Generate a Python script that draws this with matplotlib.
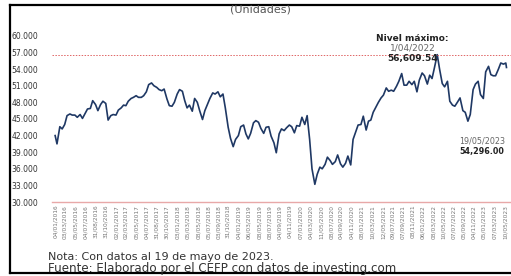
import numpy as np
import matplotlib
matplotlib.use('Agg')
import matplotlib.pyplot as plt
import pandas as pd
from matplotlib.ticker import FuncFormatter

# IPC (unidades), valores quincenales
ipc_2016 = [42000, 40500, 43600, 43200, 44000, 45600, 45900, 45700, 45700, 45300, 45800, 45100,
            46000, 46800, 46900, 48300, 47600, 46500, 47600, 48200, 47800, 44800, 45600, 45800]
ipc_2017 = [45700, 46600, 47000, 47500, 47400, 48200, 48700, 48900, 49200, 48900, 48900, 49200,
            49900, 51200, 51500, 51000, 50700, 50300, 50100, 50400, 48600, 47400, 47300, 48000]
ipc_2018 = [49500, 50300, 50000, 48300, 47000, 47500, 46400, 48700, 48000, 46500, 44900, 46500,
            47700, 48700, 49700, 49500, 49900, 49000, 49500, 47000, 43500, 41500, 40000, 41300]
ipc_2019 = [42000, 43600, 43900, 42300, 41400, 42400, 44300, 44700, 44400, 43300, 42400, 43500,
            43600, 41900, 40700, 38900, 42300, 43200, 42900, 43400, 43900, 43600, 42500, 43800]
ipc_2020 = [43700, 45300, 44000, 45600, 41300, 36000, 33200, 35000, 36300, 36000, 36800, 38100,
            37500, 36800, 37300, 38500, 36900, 36300, 37000, 38300, 36700, 41300, 42700, 43900]
ipc_2021 = [44000, 45500, 43000, 44600, 44800, 46200, 47200, 48000, 48800, 49300, 50600, 50000,
            50200, 50000, 50900, 51800, 53200, 51100, 51100, 51800, 51200, 51800, 49900, 52000]
ipc_2022 = [53300, 52800, 51300, 52900, 52300, 54200, 56609.54, 54000, 51400, 50800, 51800, 48200,
            47500, 47300, 48100, 48800, 46500, 46200, 44600, 45800, 50300, 51300, 51800, 49400]
ipc_2023 = [48700, 53500, 54500, 53000, 52800, 52800, 54000, 55100, 54900, 55100, 54296.0]

valores = ipc_2016 + ipc_2017 + ipc_2018 + ipc_2019 + ipc_2020 + ipc_2021 + ipc_2022 + ipc_2023
fechas = ([pd.Timestamp('2016-01-04')]
          + list(pd.date_range('2016-01-15', '2023-05-15', freq='SMS'))
          + [pd.Timestamp('2023-05-19')])

etiquetas_x = ['04/01/2016', '03/03/2016', '05/05/2016', '04/07/2016', '31/08/2016', '31/10/2016',
               '02/01/2017', '02/03/2017', '05/05/2017', '04/07/2017', '31/08/2017', '30/10/2017',
               '03/01/2018', '05/03/2018', '08/05/2018', '05/07/2018', '03/09/2018', '31/10/2018',
               '04/01/2019', '06/03/2019', '08/05/2019', '08/07/2019', '04/09/2019', '04/11/2019',
               '07/01/2020', '04/03/2020', '11/05/2020', '08/07/2020', '04/09/2020', '04/11/2020',
               '08/01/2021', '10/03/2021', '12/05/2021', '09/07/2021', '07/09/2021', '08/11/2021',
               '06/01/2022', '08/03/2022', '10/05/2022', '07/07/2022', '05/09/2022', '04/11/2022',
               '05/01/2023', '07/03/2023', '10/05/2023']
maximo = 56609.54
fecha_max = '1/04/2022'
ultimo = 54296.0
fecha_ult = '19/05/2023'

plt.rcParams['font.family'] = ['DejaVu Sans']

fig = plt.figure(figsize=(5.11, 2.76), dpi=100)
ax = fig.add_axes([0.102, 0.268, 0.898, 0.602])

ax.plot(fechas, valores, color='#1f3864', lw=1.2)
ax.axhline(maximo, color='#e06666', lw=0.7, ls=(0, (1.5, 1.5)))

ax.set_ylim(30000, 60000)
ax.set_xlim(pd.Timestamp('2015-12-17'), pd.Timestamp('2023-06-15'))
ax.set_yticks(np.arange(30000, 60001, 3000))
ax.yaxis.set_major_formatter(FuncFormatter(lambda v, p: f'{int(v):,}'.replace(',', '.')))
ax.tick_params(axis='y', length=0, labelsize=5.5, labelcolor='#333333', pad=10)

ticks = [pd.to_datetime(t, format='%d/%m/%Y') for t in etiquetas_x]
ax.set_xticks(ticks)
ax.set_xticklabels(etiquetas_x, rotation=90, fontsize=4.2, color='#777777')
ax.tick_params(axis='x', length=0, pad=2)

for s in ['top', 'right', 'left']:
    ax.spines[s].set_visible(False)
ax.spines['bottom'].set_color('#e8a8a8')
ax.spines['bottom'].set_linewidth(1.0)

# anotaciones
x_max = pd.Timestamp('2021-11-05')
ax.text(x_max, 59600, 'Nivel máximo:', ha='center', va='center',
        fontsize=6.5, fontweight='bold', color='#222222')
ax.text(x_max, 57800, fecha_max, ha='center', va='center',
        fontsize=6.5, color='#666666')
ax.text(x_max, 56000, f'{maximo:,.2f}', ha='center', va='center',
        fontsize=6.5, fontweight='bold', color='#222222')
x_ult = pd.Timestamp('2022-08-10')
ax.text(x_ult, 41000, fecha_ult, ha='left', va='center',
        fontsize=5.8, color='#666666', clip_on=False)
ax.text(x_ult, 39200, f'{ultimo:,.2f}', ha='left', va='center',
        fontsize=5.8, fontweight='bold', color='#222222', clip_on=False)

fig.text(0.51, 0.965, '(Unidades)', ha='center', va='center', fontsize=8, color='#555555')
fig.text(0.094, 0.068, 'Nota: Con datos al 19 de mayo de 2023.', ha='left', va='center',
         fontsize=8.0, color='#333333')
fig.text(0.094, 0.028, 'Fuente: Elaborado por el CEFP con datos de investing.com', ha='left',
         va='center', fontsize=8.6, color='#333333')

# marco negro de la captura
fig.add_artist(plt.Line2D([0.019, 1.0], [0.982, 0.982], color='black', lw=1.6, transform=fig.transFigure))
fig.add_artist(plt.Line2D([0.019, 0.019], [0.982, 0.01], color='black', lw=1.6, transform=fig.transFigure))
fig.add_artist(plt.Line2D([0.019, 1.0], [0.01, 0.01], color='black', lw=1.6, transform=fig.transFigure))

fig.savefig('out.png', dpi=100)
